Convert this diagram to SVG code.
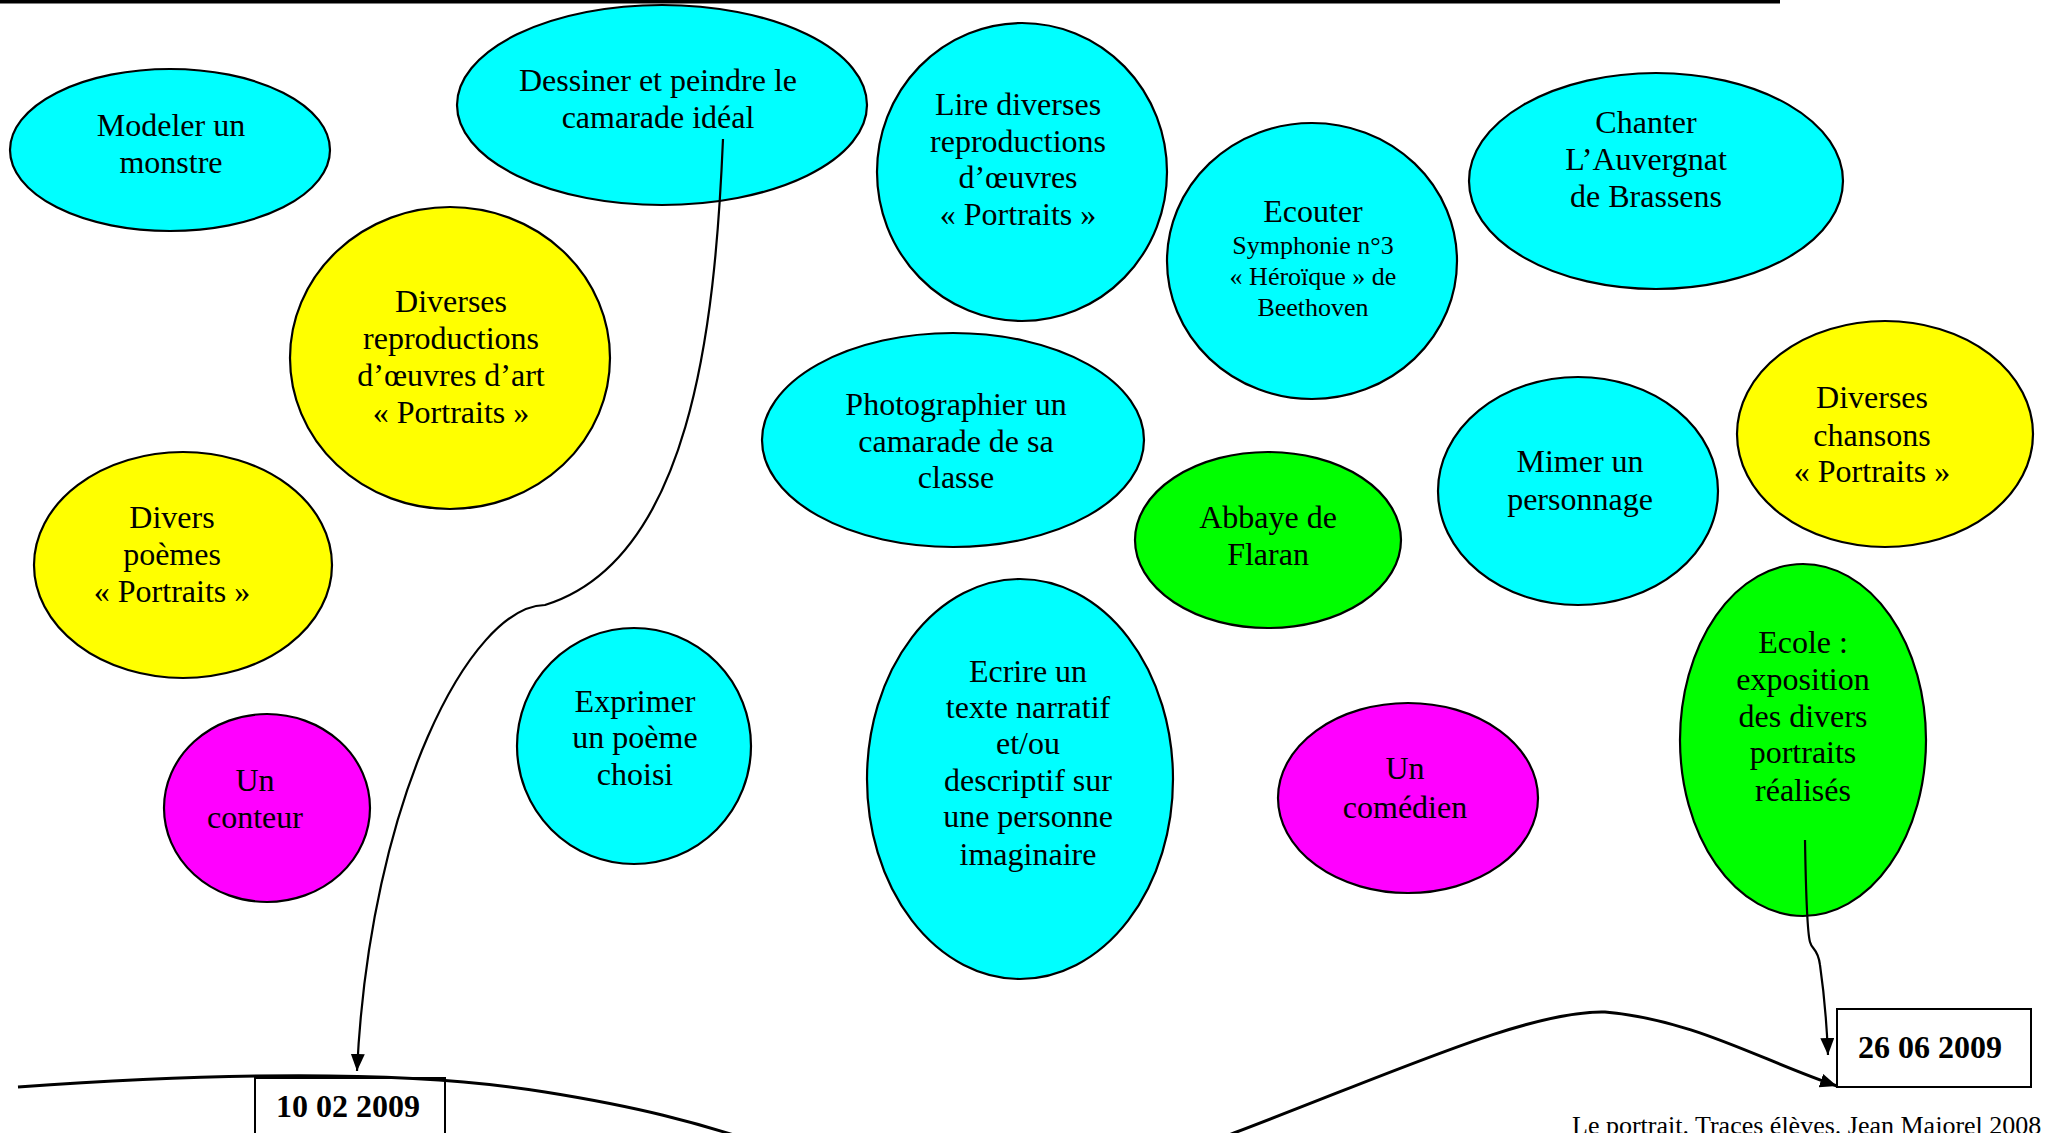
<svg xmlns="http://www.w3.org/2000/svg" width="2049" height="1133" viewBox="0 0 2049 1133">
<style>
  .n { stroke: #000; stroke-width: 2.2; }
  .cy { fill: #00FFFF; }
  .ye { fill: #FFFF00; }
  .gr { fill: #00FF00; }
  .ma { fill: #FF00FF; }
  .t { font-family: "Liberation Serif", "Times New Roman", serif; font-size: 32px; fill: #000; text-anchor: middle; }
  .s { font-size: 26px; }
  .b { font-weight: bold; }
  .box { fill: #fff; stroke: #000; stroke-width: 2; }
  .c { fill: none; stroke: #000; stroke-width: 2.2; }
  .tl { fill: none; stroke: #000; stroke-width: 3; }
</style>
<defs>
  <marker id="ah" markerUnits="userSpaceOnUse" markerWidth="20" markerHeight="16" refX="17" refY="7" orient="auto">
    <path d="M0,0 L17,7 L0,14 z" fill="#000"/>
  </marker>
</defs>
<rect x="0" y="0" width="1780" height="3.5" fill="#000"/>

<g id="modeler"><ellipse class="n cy" cx="170" cy="150" rx="160" ry="81"/>
<text class="t" x="171"><tspan x="171" y="136">Modeler un</tspan><tspan x="171" y="173">monstre</tspan></text></g>

<g id="dessiner"><ellipse class="n cy" cx="662" cy="105" rx="205" ry="100"/>
<text class="t"><tspan x="658" y="91">Dessiner et peindre le</tspan><tspan x="658" y="128">camarade idéal</tspan></text></g>

<g id="lire"><ellipse class="n cy" cx="1022" cy="172" rx="145" ry="149"/>
<text class="t"><tspan x="1018" y="115">Lire diverses</tspan><tspan x="1018" y="152">reproductions</tspan><tspan x="1018" y="188">d’œuvres</tspan><tspan x="1018" y="225">« Portraits »</tspan></text></g>

<g id="ecouter"><ellipse class="n cy" cx="1312" cy="261" rx="145" ry="138"/>
<text class="t"><tspan x="1313" y="222">Ecouter</tspan><tspan class="s" x="1313" y="254">Symphonie n°3</tspan><tspan class="s" x="1313" y="285">« Héroïque » de</tspan><tspan class="s" x="1313" y="316">Beethoven</tspan></text></g>

<g id="chanter"><ellipse class="n cy" cx="1656" cy="181" rx="187" ry="108"/>
<text class="t"><tspan x="1646" y="133">Chanter</tspan><tspan x="1646" y="170">L’Auvergnat</tspan><tspan x="1646" y="207">de Brassens</tspan></text></g>

<g id="diverses-repro"><ellipse class="n ye" cx="450" cy="358" rx="160" ry="151"/>
<text class="t"><tspan x="451" y="312">Diverses</tspan><tspan x="451" y="349">reproductions</tspan><tspan x="451" y="386">d’œuvres d’art</tspan><tspan x="451" y="423">« Portraits »</tspan></text></g>

<g id="divers-poemes"><ellipse class="n ye" cx="183" cy="565" rx="149" ry="113"/>
<text class="t"><tspan x="172" y="528">Divers</tspan><tspan x="172" y="565">poèmes</tspan><tspan x="172" y="602">« Portraits »</tspan></text></g>

<g id="photographier"><ellipse class="n cy" cx="953" cy="440" rx="191" ry="107"/>
<text class="t"><tspan x="956" y="415">Photographier un</tspan><tspan x="956" y="452">camarade de sa</tspan><tspan x="956" y="488">classe</tspan></text></g>

<g id="abbaye"><ellipse class="n gr" cx="1268" cy="540" rx="133" ry="88"/>
<text class="t"><tspan x="1268" y="528">Abbaye de</tspan><tspan x="1268" y="565">Flaran</tspan></text></g>

<g id="mimer"><ellipse class="n cy" cx="1578" cy="491" rx="140" ry="114"/>
<text class="t"><tspan x="1580" y="472">Mimer un</tspan><tspan x="1580" y="510">personnage</tspan></text></g>

<g id="chansons"><ellipse class="n ye" cx="1885" cy="434" rx="148" ry="113"/>
<text class="t"><tspan x="1872" y="408">Diverses</tspan><tspan x="1872" y="446">chansons</tspan><tspan x="1872" y="482">« Portraits »</tspan></text></g>

<g id="ecole"><ellipse class="n gr" cx="1803" cy="740" rx="123" ry="176"/>
<text class="t"><tspan x="1803" y="653">Ecole :</tspan><tspan x="1803" y="690">exposition</tspan><tspan x="1803" y="727">des divers</tspan><tspan x="1803" y="763">portraits</tspan><tspan x="1803" y="801">réalisés</tspan></text></g>

<g id="comedien"><ellipse class="n ma" cx="1408" cy="798" rx="130" ry="95"/>
<text class="t"><tspan x="1405" y="779">Un</tspan><tspan x="1405" y="818">comédien</tspan></text></g>

<g id="ecrire"><ellipse class="n cy" cx="1020" cy="779" rx="153" ry="200"/>
<text class="t"><tspan x="1028" y="682">Ecrire un</tspan><tspan x="1028" y="718">texte narratif</tspan><tspan x="1028" y="754">et/ou</tspan><tspan x="1028" y="791">descriptif sur</tspan><tspan x="1028" y="827">une personne</tspan><tspan x="1028" y="865">imaginaire</tspan></text></g>

<g id="exprimer"><ellipse class="n cy" cx="634" cy="746" rx="117" ry="118"/>
<text class="t"><tspan x="635" y="712">Exprimer</tspan><tspan x="635" y="748">un poème</tspan><tspan x="635" y="785">choisi</tspan></text></g>

<g id="conteur"><ellipse class="n ma" cx="267" cy="808" rx="103" ry="94"/>
<text class="t"><tspan x="255" y="791">Un</tspan><tspan x="255" y="828">conteur</tspan></text></g>

<g id="date1"><rect class="box" x="255" y="1078" width="190" height="80"/>
<text class="t b" x="348" y="1117">10 02 2009</text></g>

<g id="date2"><rect class="box" x="1837" y="1009" width="194" height="78"/>
<text class="t b" x="1930" y="1058">26 06 2009</text></g>

<g id="connectors">
  <path class="c" d="M723,139 C715,330 690,560 545,605 C 470,606 370,800 357,1071" marker-end="url(#ah)"/>
  <path class="c" d="M1805,840 C1806,900 1808,935 1810,942 C1812,950 1818,948 1820,965 C1825,1000 1827,1030 1828,1055" marker-end="url(#ah)"/>
  <path class="tl" d="M18,1087 C200,1074 400,1068 545,1092 C620,1104 700,1120 800,1158"/>
  <path class="tl" d="M1180,1154 L1234,1133 C1400,1070 1530,1010 1605,1012 C1695,1020 1760,1060 1837,1086" marker-end="url(#ah)"/>
</g>

<text class="t s" x="1572" y="1134" style="text-anchor:start">Le portrait. Traces élèves. Jean Majorel 2008</text>
</svg>
